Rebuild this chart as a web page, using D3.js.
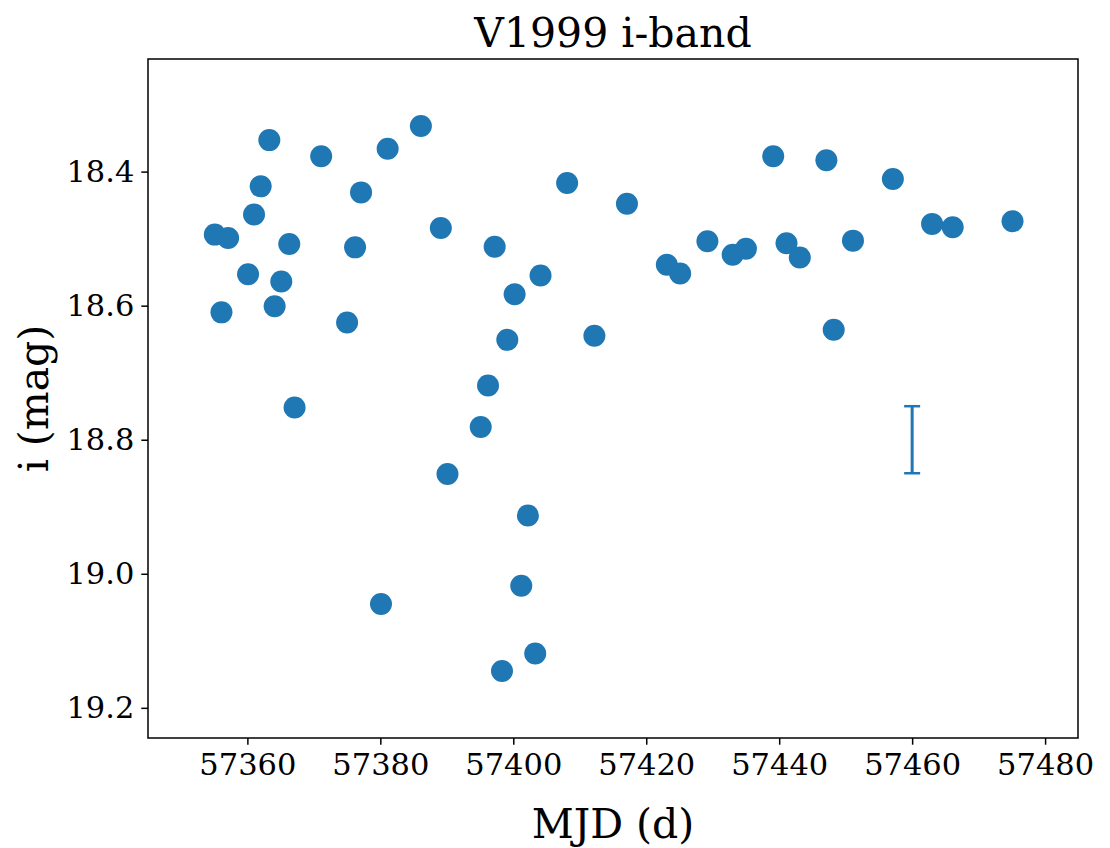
<!DOCTYPE html>
<html>
<head>
<meta charset="utf-8">
<script src="https://cdn.jsdelivr.net/npm/d3@7"></script>
<style>
  body { margin: 0; background: #fff; }
  svg { display: block; font-family: "DejaVu Serif", serif; }
</style>
</head>
<body>
<svg id="chart"></svg>
<script>
// observation dates (MJD) and i-band magnitudes
const mjd = [57355.1, 57356.1, 57357.1, 57360.1, 57361.0, 57362.0, 57363.3, 57364.1, 57365.1, 57366.3,
  57367.1, 57371.1, 57375.0, 57376.2, 57377.1, 57380.1, 57381.1, 57386.1, 57389.1, 57390.1,
  57395.1, 57396.2, 57397.2, 57398.3, 57399.1, 57400.2, 57401.2, 57402.2, 57403.3, 57404.1,
  57408.1, 57412.2, 57417.1, 57423.1, 57425.1, 57429.2, 57433.0, 57435.0, 57439.1, 57441.1,
  57443.1, 57447.1, 57448.2, 57451.1, 57457.1, 57463.0, 57466.1, 57475.1];
const imag = [18.494, 18.610, 18.499, 18.553, 18.464, 18.422, 18.353, 18.601, 18.564, 18.508,
  18.752, 18.377, 18.625, 18.513, 18.431, 19.045, 18.366, 18.332, 18.484, 18.851,
  18.781, 18.719, 18.512, 19.145, 18.651, 18.583, 19.018, 18.913, 19.119, 18.555,
  18.417, 18.645, 18.448, 18.539, 18.552, 18.504, 18.524, 18.515, 18.377, 18.507,
  18.528, 18.383, 18.636, 18.503, 18.411, 18.478, 18.483, 18.474];

// typical error bar shown on its own
const errMjd = [57460];
const errMag = [18.8];
const errSize = [0.05];

const xTicks = [57360, 57380, 57400, 57420, 57440, 57460, 57480];
const yTicks = [18.4, 18.6, 18.8, 19.0, 19.2];

const width = 1110, height = 848;
const margin = { top: 59, right: 32, bottom: 110, left: 148 };
const blue = "#1f77b4";

const svg = d3.select("#chart").attr("width", width).attr("height", height);

const x = d3.scaleLinear()
  .domain([57345.05, 57484.95])
  .range([margin.left, width - margin.right]);
const y = d3.scaleLinear()
  .domain([18.232, 19.245])
  .range([margin.top, height - margin.bottom]);

const points = mjd.map((d, i) => ({ mjd: d, mag: imag[i] }));

// points
svg.append("g")
  .selectAll("circle")
  .data(points)
  .join("circle")
  .attr("cx", d => x(d.mjd))
  .attr("cy", d => y(d.mag))
  .attr("r", 11)
  .attr("fill", blue);

// error bar
const err = errMjd.map((d, i) => ({ mjd: d, mag: errMag[i], e: errSize[i] }));
const eb = svg.append("g").attr("stroke", blue);
eb.selectAll("line.bar")
  .data(err)
  .join("line")
  .attr("class", "bar")
  .attr("x1", d => x(d.mjd)).attr("x2", d => x(d.mjd))
  .attr("y1", d => y(d.mag - d.e)).attr("y2", d => y(d.mag + d.e))
  .attr("stroke-width", 3);
eb.selectAll("line.cap")
  .data(err.flatMap(d => [d.mag - d.e, d.mag + d.e].map(m => ({ mjd: d.mjd, m: m }))))
  .join("line")
  .attr("class", "cap")
  .attr("x1", d => x(d.mjd) - 8).attr("x2", d => x(d.mjd) + 8)
  .attr("y1", d => y(d.m)).attr("y2", d => y(d.m))
  .attr("stroke-width", 2.5);

// axes
const xAxis = svg.append("g")
  .attr("transform", `translate(0,${height - margin.bottom})`)
  .call(d3.axisBottom(x).tickValues(xTicks).tickFormat(d3.format("d")).tickSize(6.7).tickPadding(9));
const yAxis = svg.append("g")
  .attr("transform", `translate(${margin.left},0)`)
  .call(d3.axisLeft(y).tickValues(yTicks).tickFormat(d3.format(".1f")).tickSize(6.7).tickPadding(7));

[xAxis, yAxis].forEach(a => {
  a.select(".domain").remove();
  a.selectAll(".tick line").attr("stroke", "#000").attr("stroke-width", 1.5);
  a.selectAll(".tick text")
    .attr("fill", "#000")
    .style("font-family", "'DejaVu Serif', serif")
    .style("font-size", "30.5px");
});

// frame
svg.append("rect")
  .attr("x", margin.left)
  .attr("y", margin.top)
  .attr("width", width - margin.left - margin.right)
  .attr("height", height - margin.top - margin.bottom)
  .attr("fill", "none")
  .attr("stroke", "#000")
  .attr("stroke-width", 1.5);

// title + labels
svg.append("text")
  .attr("x", (margin.left + width - margin.right) / 2)
  .attr("y", 47)
  .attr("text-anchor", "middle")
  .style("font-size", "41px")
  .text("V1999 i-band");

svg.append("text")
  .attr("x", (margin.left + width - margin.right) / 2)
  .attr("y", 838)
  .attr("text-anchor", "middle")
  .style("font-size", "41px")
  .text("MJD (d)");

svg.append("text")
  .attr("transform", `translate(48,${(margin.top + height - margin.bottom) / 2}) rotate(-90)`)
  .attr("text-anchor", "middle")
  .style("font-size", "41px")
  .text("i (mag)");
</script>
</body>
</html>
